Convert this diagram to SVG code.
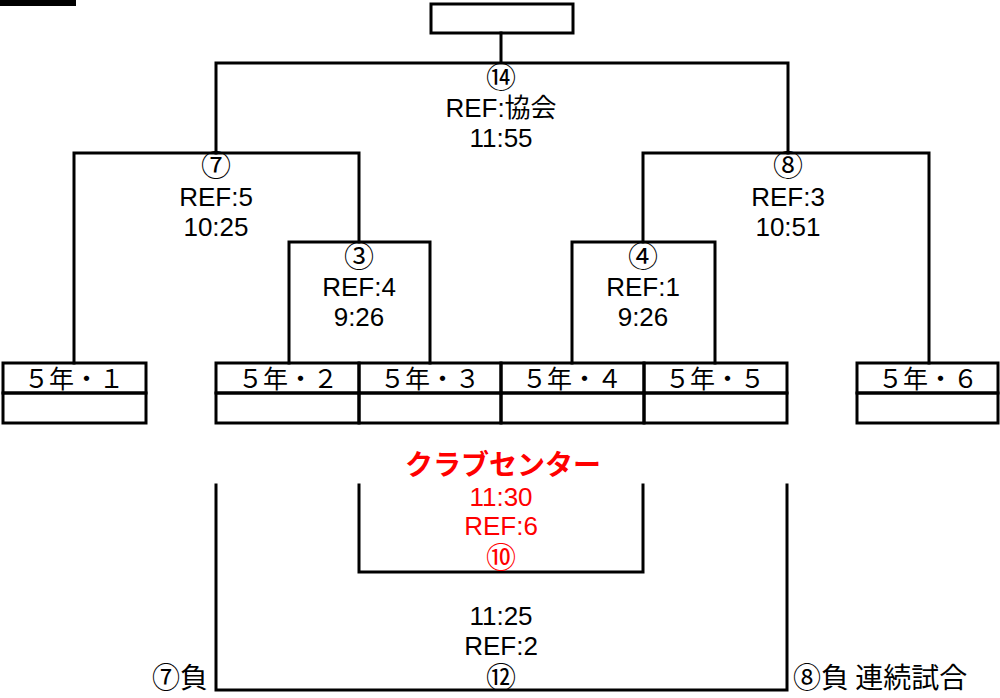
<svg xmlns="http://www.w3.org/2000/svg" width="1000" height="698" viewBox="0 0 1000 698">
<style>
.ln{fill:none;stroke:#000;stroke-width:3;stroke-linecap:square}
.t{font-family:"Liberation Sans","Noto Sans CJK JP",sans-serif;font-size:26px;fill:#000;text-anchor:middle}
.c{font-family:"Noto Sans CJK JP",sans-serif;font-size:30px;fill:#000;text-anchor:middle}
.tm{font-family:"Noto Sans CJK JP",sans-serif;font-size:25px;fill:#000;text-anchor:middle}
.j{font-family:"Noto Sans CJK JP",sans-serif;font-size:28px;fill:#000}
.r{fill:#f00}
</style>
<rect x="0" y="0" width="76" height="6" fill="#000"/>
<g id="connectors">
<path class="ln" d="M501,33 V63 M216,153 V63 H788 V153"/>
<path class="ln" d="M74,363 V153 H359 V242"/>
<path class="ln" d="M289,363 V242 H430 V363"/>
<path class="ln" d="M643,242 V153 H929 V363"/>
<path class="ln" d="M572,363 V242 H715 V363"/>
<path class="ln" d="M216,485 V690 H787 V485"/>
<path class="ln" d="M359,485 V572 H643 V485"/>
</g>
<g id="final"><rect class="ln" x="431" y="4" width="142" height="29"/></g>
<g id="m14"><text class="c" x="501" y="88">⑭</text><text class="t" x="501" y="117">REF:協会</text><text class="t" x="501" y="147">11:55</text></g>
<g id="m7"><text class="c" x="216" y="176">⑦</text><text class="t" x="216" y="206">REF:5</text><text class="t" x="216" y="236">10:25</text></g>
<g id="m8"><text class="c" x="788" y="176">⑧</text><text class="t" x="788" y="206">REF:3</text><text class="t" x="788" y="236">10:51</text></g>
<g id="m3"><text class="c" x="359" y="267">③</text><text class="t" x="359" y="296">REF:4</text><text class="t" x="359" y="326">9:26</text></g>
<g id="m4"><text class="c" x="643" y="267">④</text><text class="t" x="643" y="296">REF:1</text><text class="t" x="643" y="326">9:26</text></g>
<g id="team1"><rect class="ln" x="3" y="363" width="143" height="30"/><rect class="ln" x="3" y="393" width="143" height="30"/><text class="tm" x="74" y="388">５年・１</text></g>
<g id="team2"><rect class="ln" x="216" y="363" width="143" height="30"/><rect class="ln" x="216" y="393" width="143" height="30"/><text class="tm" x="288" y="388">５年・２</text></g>
<g id="team3"><rect class="ln" x="359" y="363" width="142" height="30"/><rect class="ln" x="359" y="393" width="142" height="30"/><text class="tm" x="430" y="388">５年・３</text></g>
<g id="team4"><rect class="ln" x="501" y="363" width="143" height="30"/><rect class="ln" x="501" y="393" width="143" height="30"/><text class="tm" x="572" y="388">５年・４</text></g>
<g id="team5"><rect class="ln" x="644" y="363" width="143" height="30"/><rect class="ln" x="644" y="393" width="143" height="30"/><text class="tm" x="715" y="388">５年・５</text></g>
<g id="team6"><rect class="ln" x="857" y="363" width="141" height="30"/><rect class="ln" x="857" y="393" width="141" height="30"/><text class="tm" x="928" y="388">５年・６</text></g>
<g id="m10"><text class="tm r" x="503" y="475" style="font-size:28px;font-weight:bold">クラブセンター</text><text class="t r" x="501" y="506">11:30</text><text class="t r" x="501" y="535">REF:6</text><text class="c r" x="501" y="568">⑩</text></g>
<g id="m12"><text class="t" x="501" y="625">11:25</text><text class="t" x="501" y="655">REF:2</text><text class="c" x="501" y="688">⑫</text></g>
<text class="j" x="152" y="688">⑦負</text>
<text class="j" x="793" y="688">⑧負 連続試合</text>
</svg>
